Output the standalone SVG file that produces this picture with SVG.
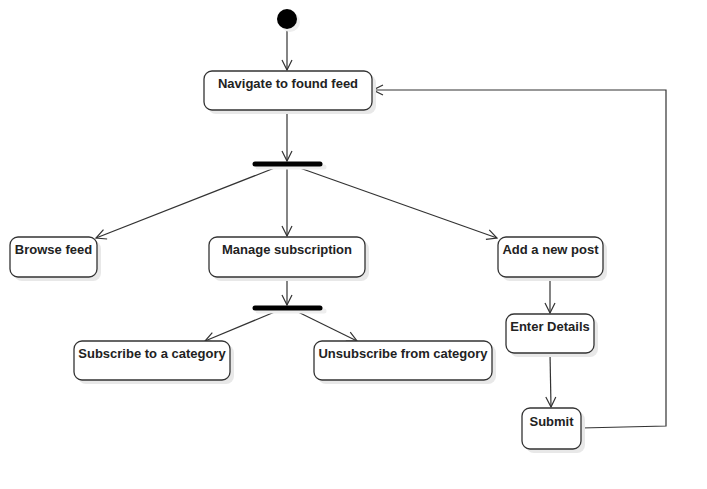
<svg xmlns="http://www.w3.org/2000/svg" width="707" height="489" viewBox="0 0 707 489">
<defs>
<marker id="arr" viewBox="0 0 12 12" refX="11" refY="6" markerWidth="12" markerHeight="12" markerUnits="userSpaceOnUse" orient="auto">
<path d="M1,1 L11,6 L1,11" fill="none" stroke="#333" stroke-width="1.2"/>
</marker>
</defs>
<style>
.box{fill:#fff;stroke:#333;stroke-width:1.3}
.sh{fill:#e8e8e8;stroke:none}
.t{font-family:"Liberation Sans",Arial,sans-serif;font-weight:bold;font-size:13px;fill:#222;text-anchor:middle}
.c{fill:none;stroke:#333;stroke-width:1.2}
.bar{stroke:#000;stroke-width:5;stroke-linecap:round}
</style>
<rect width="707" height="489" fill="#fff"/>
<g id="connectors">
<line class="c" x1="287" y1="29" x2="287" y2="70" marker-end="url(#arr)"/>
<line class="c" x1="287" y1="110" x2="287" y2="161" marker-end="url(#arr)"/>
<line class="c" x1="277" y1="167" x2="96" y2="238" marker-end="url(#arr)"/>
<line class="c" x1="287" y1="167" x2="287" y2="236" marker-end="url(#arr)"/>
<line class="c" x1="297" y1="167" x2="497" y2="238" marker-end="url(#arr)"/>
<line class="c" x1="287" y1="277" x2="287" y2="305" marker-end="url(#arr)"/>
<line class="c" x1="277" y1="311" x2="205" y2="341" marker-end="url(#arr)"/>
<line class="c" x1="296" y1="311" x2="357" y2="341" marker-end="url(#arr)"/>
<line class="c" x1="550" y1="277" x2="550" y2="313" marker-end="url(#arr)"/>
<line class="c" x1="550" y1="353" x2="551" y2="407" marker-end="url(#arr)"/>
<polyline class="c" points="581,428 666,426 666,90 373,90" marker-end="url(#arr)"/>
</g>
<g id="start">
<circle cx="290" cy="22" r="10" fill="#eee"/>
<circle cx="287" cy="19" r="10" fill="#000"/>
</g>
<g id="navigate">
<rect class="sh" x="208" y="75" width="168" height="39" rx="8"/>
<rect class="box" x="204" y="71" width="168" height="39" rx="8"/>
<text class="t" x="288" y="88">Navigate to found feed</text>
</g>
<g id="fork1">
<line x1="258" y1="167" x2="324" y2="167" stroke="#eee" stroke-width="5" stroke-linecap="round"/>
<line class="bar" x1="255" y1="164" x2="320" y2="164"/>
</g>
<g id="browse">
<rect class="sh" x="14" y="241" width="87" height="40" rx="8"/>
<rect class="box" x="10" y="237" width="87" height="40" rx="8"/>
<text class="t" x="53.5" y="254">Browse feed</text>
</g>
<g id="manage">
<rect class="sh" x="213" y="241" width="156" height="40" rx="8"/>
<rect class="box" x="209" y="237" width="156" height="40" rx="8"/>
<text class="t" x="287" y="254">Manage subscription</text>
</g>
<g id="addpost">
<rect class="sh" x="502" y="241" width="105" height="40" rx="8"/>
<rect class="box" x="498" y="237" width="105" height="40" rx="8"/>
<text class="t" x="550.5" y="254">Add a new post</text>
</g>
<g id="fork2">
<line x1="258" y1="311" x2="324" y2="311" stroke="#eee" stroke-width="5" stroke-linecap="round"/>
<line class="bar" x1="255" y1="308" x2="320" y2="308"/>
</g>
<g id="subscribe">
<rect class="sh" x="78" y="345" width="156" height="39" rx="8"/>
<rect class="box" x="74" y="341" width="156" height="39" rx="8"/>
<text class="t" x="152" y="358">Subscribe to a category</text>
</g>
<g id="unsubscribe">
<rect class="sh" x="318" y="345" width="178" height="39" rx="8"/>
<rect class="box" x="314" y="341" width="178" height="39" rx="8"/>
<text class="t" x="403" y="358">Unsubscribe from category</text>
</g>
<g id="enterdetails">
<rect class="sh" x="510" y="318" width="88" height="39" rx="8"/>
<rect class="box" x="506" y="314" width="88" height="39" rx="8"/>
<text class="t" x="550" y="331">Enter Details</text>
</g>
<g id="submit">
<rect class="sh" x="526" y="412" width="59" height="41" rx="8"/>
<rect class="box" x="522" y="408" width="59" height="41" rx="8"/>
<text class="t" x="551.5" y="426">Submit</text>
</g>
</svg>
